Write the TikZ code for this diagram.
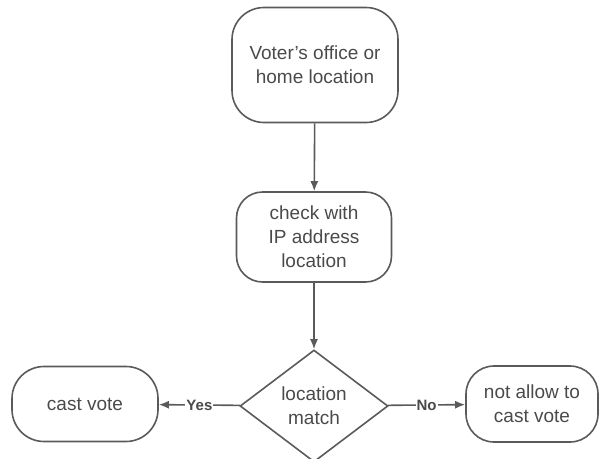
\documentclass[tikz,border=0pt]{standalone}
\usepackage{fontspec}
\setmainfont{Liberation Sans}
\usetikzlibrary{shapes.geometric,arrows.meta}
\definecolor{linegray}{HTML}{5A5A5A}
\definecolor{textgray}{HTML}{4A4A4A}

\begin{document}
\begin{tikzpicture}[x=1pt,y=-1pt,
    box/.style={draw=linegray,line width=1.6pt,rectangle,rounded corners=32pt,
      text=textgray,align=center,font=\fontsize{19}{24}\selectfont},
    flow/.style={draw=linegray,line width=1.6pt,-{Latex[length=10pt,width=8pt]}},
    lbl/.style={fill=white,text=textgray,inner sep=1pt,font=\bfseries\fontsize{15}{17}\selectfont}]
    \useasboundingbox (0,0) rectangle (612,458);

    \node[box,minimum width=166pt,minimum height=115pt] (home) at
    (315,65) {Voter's office or\\home location};
    \node[box,rounded corners=26pt,minimum width=155pt,minimum
    height=90pt] (check) at
    (314,237) {check with\\IP address\\location};
    \node[draw=linegray,line width=1.6pt,diamond,aspect=1.32,inner sep=0pt,
    minimum width=148pt,minimum height=112pt,text=textgray,align=center,
    font=\fontsize{19}{24}\selectfont] (match) at
    (314,406) {location\\match};
    \node[box,minimum width=146pt,minimum
    height=75pt] (cast) at
    (85,404) {cast vote};
    \node[box,rounded corners=28pt,minimum width=132pt,minimum
    height=76pt] (deny) at
    (532,404) {not allow to\\cast vote};

    \draw[flow] (home) -- (check);
    \draw[flow] (check) -- (match);
    \draw[flow] (match) -- node[lbl] {Yes} (cast);
    \draw[flow] (match) -- node[lbl] {No} (deny);
  \end{tikzpicture}
\end{document}
